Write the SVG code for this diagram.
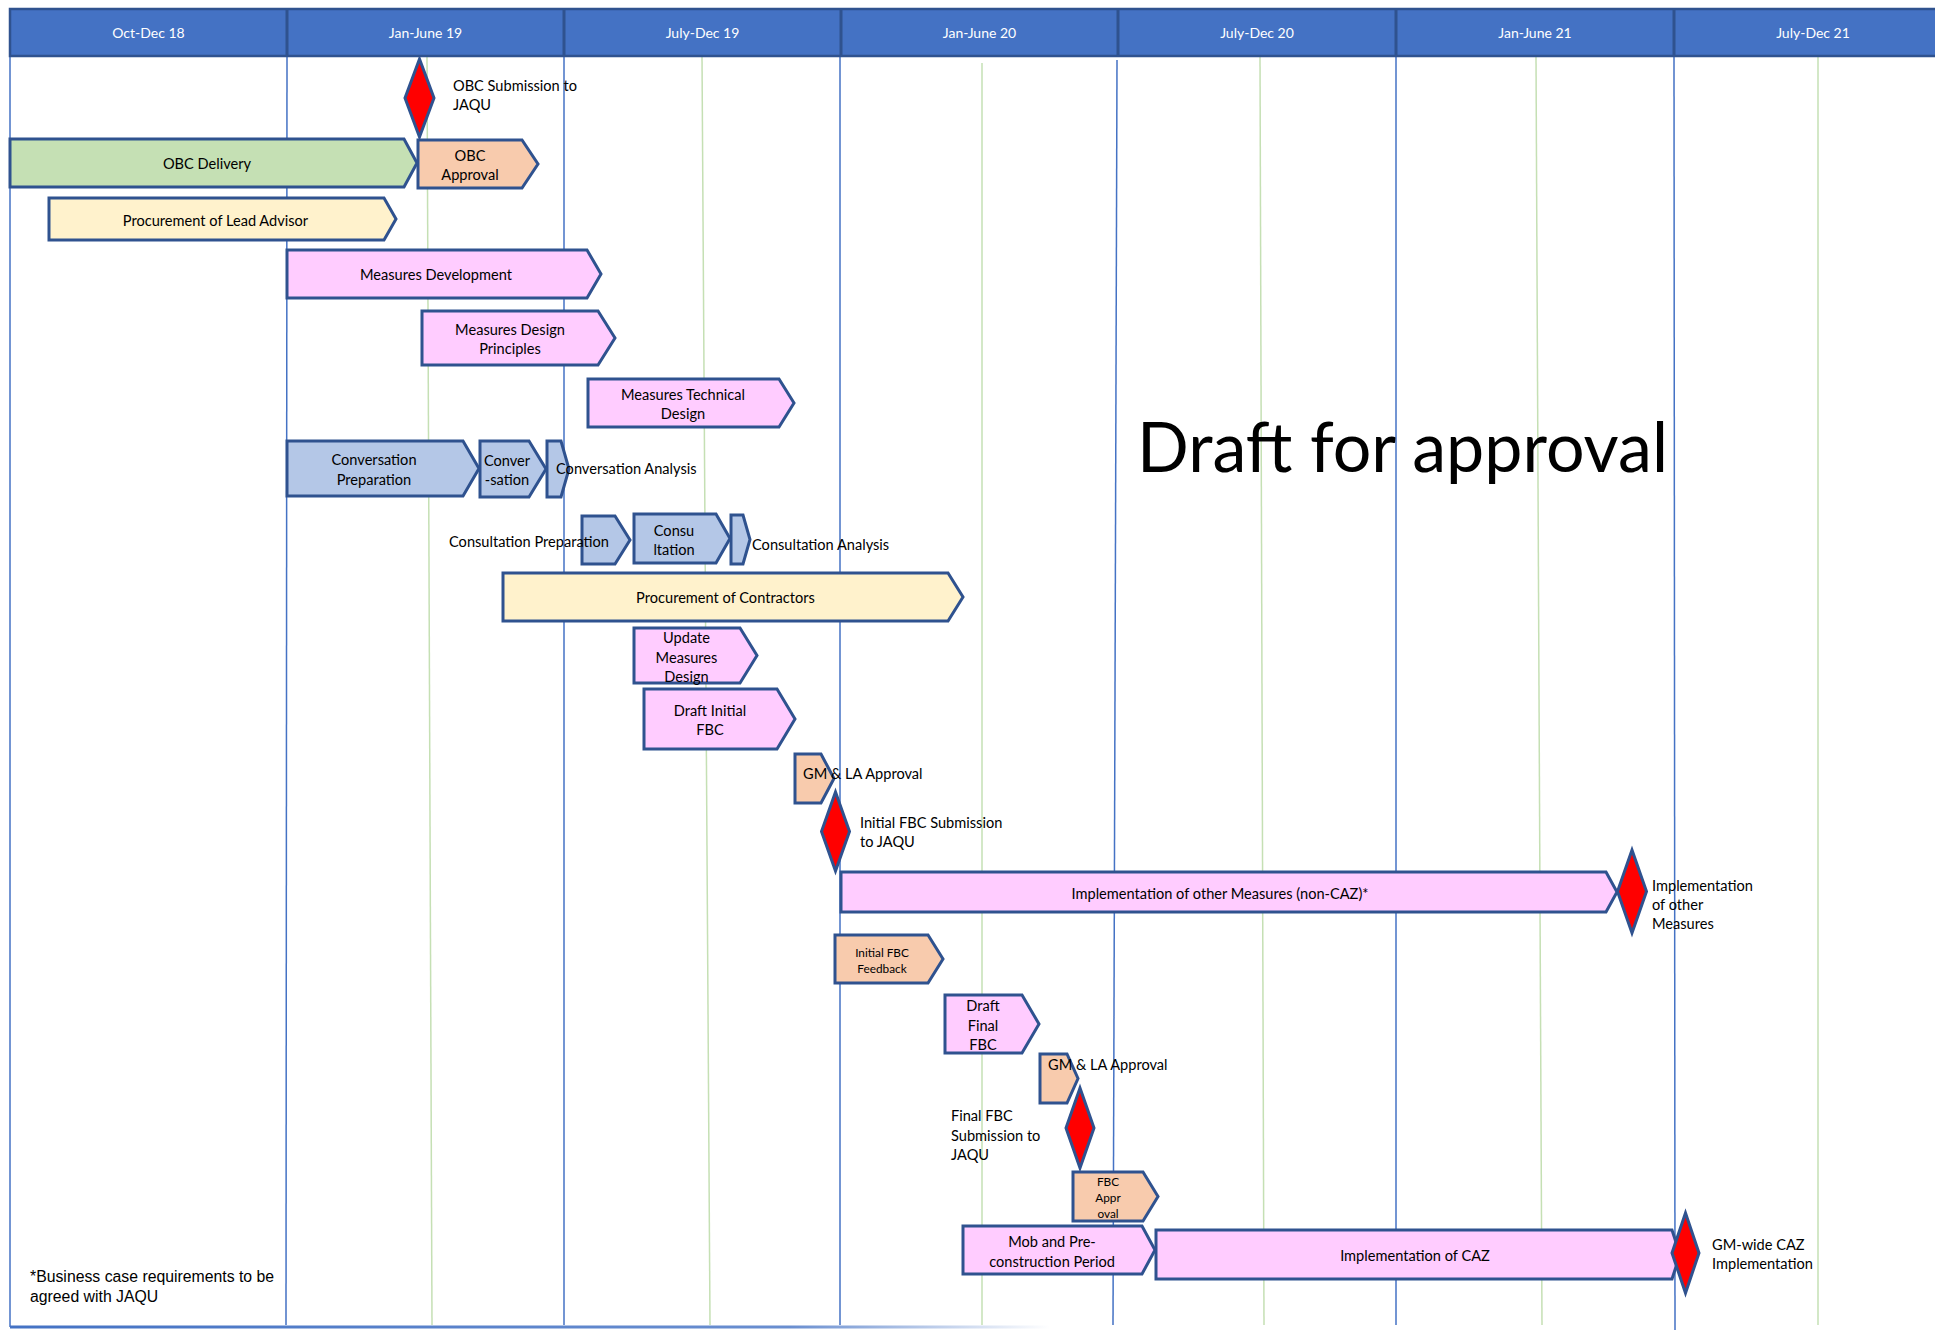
<svg xmlns="http://www.w3.org/2000/svg" width="1935" height="1332" viewBox="0 0 1935 1332">
<defs>
<style>
.bar{stroke:#2F528F;stroke-width:3;stroke-linejoin:miter}
.green{fill:#C5E0B4}.peach{fill:#F8CBAD}.yellow{fill:#FFF2CC}.pink{fill:#FFCCFF}.blue{fill:#B4C7E7}
.ms{fill:#FF0000;stroke:#2F528F;stroke-width:3}
.gb{stroke:#4472C4;stroke-width:1.5;fill:none}
.gg{stroke:#C5E0B4;stroke-width:1.5;fill:none}
text{font-family:Lato,"Open Sans",sans-serif;font-size:14.6px;fill:#000;dominant-baseline:central}
.c{text-anchor:middle}
.s{font-size:11.8px}
.hd{fill:#FFFFFF;font-size:14px}
.ft{font-family:"Liberation Sans",Arial,sans-serif;font-size:15.8px}
</style>
<linearGradient id="fade" x1="10" y1="0" x2="1050" y2="0" gradientUnits="userSpaceOnUse">
<stop offset="0" stop-color="#4472C4"/>
<stop offset="0.75" stop-color="#4472C4" stop-opacity="0.8"/>
<stop offset="1" stop-color="#4472C4" stop-opacity="0"/>
</linearGradient>
</defs>
<rect width="1935" height="1332" fill="#FFFFFF"/>
<g id="grid">
<line class="gb" x1="10" y1="56" x2="10" y2="1327"/>
<line class="gb" x1="287" y1="56" x2="286" y2="1325"/>
<line class="gb" x1="564" y1="56" x2="564" y2="1325"/>
<line class="gb" x1="840" y1="56" x2="840" y2="1325"/>
<line class="gb" x1="1117" y1="60" x2="1113" y2="1325"/>
<line class="gb" x1="1396" y1="56" x2="1396" y2="1325"/>
<line class="gb" x1="1674" y1="56" x2="1675" y2="1330"/>
<line class="gg" x1="427" y1="57" x2="432" y2="1325"/>
<line class="gg" x1="702" y1="57" x2="710" y2="1325"/>
<line class="gg" x1="982" y1="63" x2="982" y2="1325"/>
<line class="gg" x1="1260" y1="57" x2="1264" y2="1325"/>
<line class="gg" x1="1536" y1="57" x2="1542" y2="1325"/>
<line class="gg" x1="1818" y1="57" x2="1818" y2="1325"/>
<line x1="10" y1="1327" x2="1050" y2="1327" stroke="url(#fade)" stroke-width="3"/>
</g>
<g id="header">
<rect x="10" y="9" width="1935" height="47" fill="#4472C4" stroke="#2F528F" stroke-width="2.5"/>
<g stroke="#2F528F" stroke-width="3">
<line x1="287" y1="9" x2="287" y2="56"/>
<line x1="564" y1="9" x2="564" y2="56"/>
<line x1="841" y1="9" x2="841" y2="56"/>
<line x1="1118" y1="9" x2="1118" y2="56"/>
<line x1="1396" y1="9" x2="1396" y2="56"/>
<line x1="1674" y1="9" x2="1674" y2="56"/>
</g>
<text class="hd c" x="148.5" y="32">Oct-Dec 18</text>
<text class="hd c" x="425.5" y="32">Jan-June 19</text>
<text class="hd c" x="702.5" y="32">July-Dec 19</text>
<text class="hd c" x="979.5" y="32">Jan-June 20</text>
<text class="hd c" x="1257" y="32">July-Dec 20</text>
<text class="hd c" x="1535" y="32">Jan-June 21</text>
<text class="hd c" x="1813" y="32">July-Dec 21</text>
</g>
<g id="connectors"/>
<g id="obc-delivery"><path class="bar green" d="M10,139 H404 L417,163 L404,187 H10 Z"/><text class="c" x="207" y="163">OBC Delivery</text></g>
<g id="obc-approval"><path class="bar peach" d="M418,140 H522 L538,164 L522,188 H418 Z"/><text class="c" x="470" y="155">OBC<tspan x="470" dy="19">Approval</tspan></text></g>
<g id="obc-submission"><path class="ms" d="M419.5,59 L434,98 L419.5,137 L405,98 Z"/><text x="453" y="85">OBC Submission to<tspan x="453" dy="19">JAQU</tspan></text></g>
<g id="procurement-lead-advisor"><path class="bar yellow" d="M49,198 H384 L396,219 L384,240 H49 Z"/><text class="c" x="215.5" y="220">Procurement of Lead Advisor</text></g>
<g id="measures-development"><path class="bar pink" d="M287,250 H587 L601,274 L587,298 H287 Z"/><text class="c" x="436" y="274">Measures Development</text></g>
<g id="measures-design-principles"><path class="bar pink" d="M422,311 H598 L615,338 L598,365 H422 Z"/><text class="c" x="510" y="329">Measures Design<tspan x="510" dy="19">Principles</tspan></text></g>
<g id="measures-technical-design"><path class="bar pink" d="M588,379 H779 L794,403 L779,427 H588 Z"/><text class="c" x="683" y="394">Measures Technical<tspan x="683" dy="19">Design</tspan></text></g>
<g id="conversation-preparation"><path class="bar blue" d="M287,441 H463 L479,468.5 L463,496 H287 Z"/><text class="c" x="374" y="459">Conversation<tspan x="374" dy="20">Preparation</tspan></text></g>
<g id="conversation"><path class="bar blue" d="M480,441 H529 L546,469 L529,497 H480 Z"/><text class="c" x="507" y="460">Conver<tspan x="507" dy="19">-sation</tspan></text></g>
<g id="conversation-analysis"><path class="bar blue" d="M547,441 H561 L569,469 L561,497 H547 Z"/><text x="556" y="468">Conversation Analysis</text></g>
<g id="consultation-preparation"><path class="bar blue" d="M582,516 H615 L630,540 L615,564 H582 Z"/><text x="449" y="541">Consultation Preparation</text></g>
<g id="consultation"><path class="bar blue" d="M634,514 H716 L730,538.5 L716,563 H634 Z"/><text class="c" x="674" y="530">Consu<tspan x="674" dy="19">ltation</tspan></text></g>
<g id="consultation-analysis"><path class="bar blue" d="M731,515 H743 L750,539.5 L743,564 H731 Z"/><text x="752" y="544">Consultation Analysis</text></g>
<g id="procurement-contractors"><path class="bar yellow" d="M503,573 H948 L963,597 L948,621 H503 Z"/><text class="c" x="725.5" y="597">Procurement of Contractors</text></g>
<g id="update-measures-design"><path class="bar pink" d="M634,628 H740 L757,655.5 L740,683 H634 Z"/><text class="c" x="686.5" y="637">Update<tspan x="686.5" dy="19.5">Measures</tspan><tspan x="686.5" dy="19.5">Design</tspan></text></g>
<g id="draft-initial-fbc"><path class="bar pink" d="M644,689 H777 L795,719 L777,749 H644 Z"/><text class="c" x="710" y="710">Draft Initial<tspan x="710" dy="19">FBC</tspan></text></g>
<g id="gm-la-approval-1"><path class="bar peach" d="M795,754 H821 L834,778.5 L821,803 H795 Z"/><text x="803" y="773">GM &amp; LA Approval</text></g>
<g id="initial-fbc-submission"><path class="ms" d="M835.5,792 L849.5,831.5 L835.5,871 L821.5,831.5 Z"/><text x="860" y="822">Initial FBC Submission<tspan x="860" dy="19">to JAQU</tspan></text></g>
<g id="implementation-other-measures"><path class="bar pink" d="M841,872 H1606 L1617,892 L1606,912 H841 Z"/><text class="c" x="1220" y="893">Implementation of other Measures (non-CAZ)*</text></g>
<g id="implementation-other-measures-milestone"><path class="ms" d="M1632,850 L1646.5,891.5 L1632,933 L1617.5,891.5 Z"/><text x="1652" y="885">Implementation<tspan x="1652" dy="19">of other</tspan><tspan x="1652" dy="19">Measures</tspan></text></g>
<g id="initial-fbc-feedback"><path class="bar peach" d="M835,935 H928 L943,959 L928,983 H835 Z"/><text class="c s" x="882" y="952">Initial FBC<tspan x="882" dy="16">Feedback</tspan></text></g>
<g id="draft-final-fbc"><path class="bar pink" d="M945,995 H1022 L1039,1024 L1022,1053 H945 Z"/><text class="c" x="983" y="1005">Draft<tspan x="983" dy="19.5">Final</tspan><tspan x="983" dy="19.5">FBC</tspan></text></g>
<g id="gm-la-approval-2"><path class="bar peach" d="M1040,1054 H1067 L1078,1078.5 L1067,1103 H1040 Z"/><text x="1048" y="1064">GM &amp; LA Approval</text></g>
<g id="final-fbc-submission"><path class="ms" d="M1080,1088 L1094,1128 L1080,1168 L1066,1128 Z"/><text x="951" y="1115">Final FBC<tspan x="951" dy="19.5">Submission to</tspan><tspan x="951" dy="19.5">JAQU</tspan></text></g>
<g id="fbc-approval"><path class="bar peach" d="M1073,1172 H1143 L1158,1196.5 L1143,1221 H1073 Z"/><text class="c s" x="1108" y="1181">FBC<tspan x="1108" dy="16">Appr</tspan><tspan x="1108" dy="16">oval</tspan></text></g>
<g id="mob-preconstruction"><path class="bar pink" d="M963,1226 H1142 L1155,1250 L1142,1274 H963 Z"/><text class="c" x="1052" y="1241">Mob and Pre-<tspan x="1052" dy="20">construction Period</tspan></text></g>
<g id="implementation-caz"><path class="bar pink" d="M1156,1230 H1672 L1680,1254.5 L1672,1279 H1156 Z"/><text class="c" x="1415" y="1255">Implementation of CAZ</text></g>
<g id="gm-wide-caz"><path class="ms" d="M1685.5,1213 L1699,1253 L1685.5,1293 L1672,1253 Z"/><text x="1712" y="1244">GM-wide CAZ<tspan x="1712" dy="19">Implementation</tspan></text></g>
<g id="footnote"><text class="ft" x="30" y="1276">*Business case requirements to be<tspan x="30" dy="20">agreed with JAQU</tspan></text></g>
<g id="watermark"><text x="1137" y="472" style="font-size:70px;dominant-baseline:alphabetic" textLength="531" lengthAdjust="spacingAndGlyphs">Draft for approval</text></g>
</svg>
